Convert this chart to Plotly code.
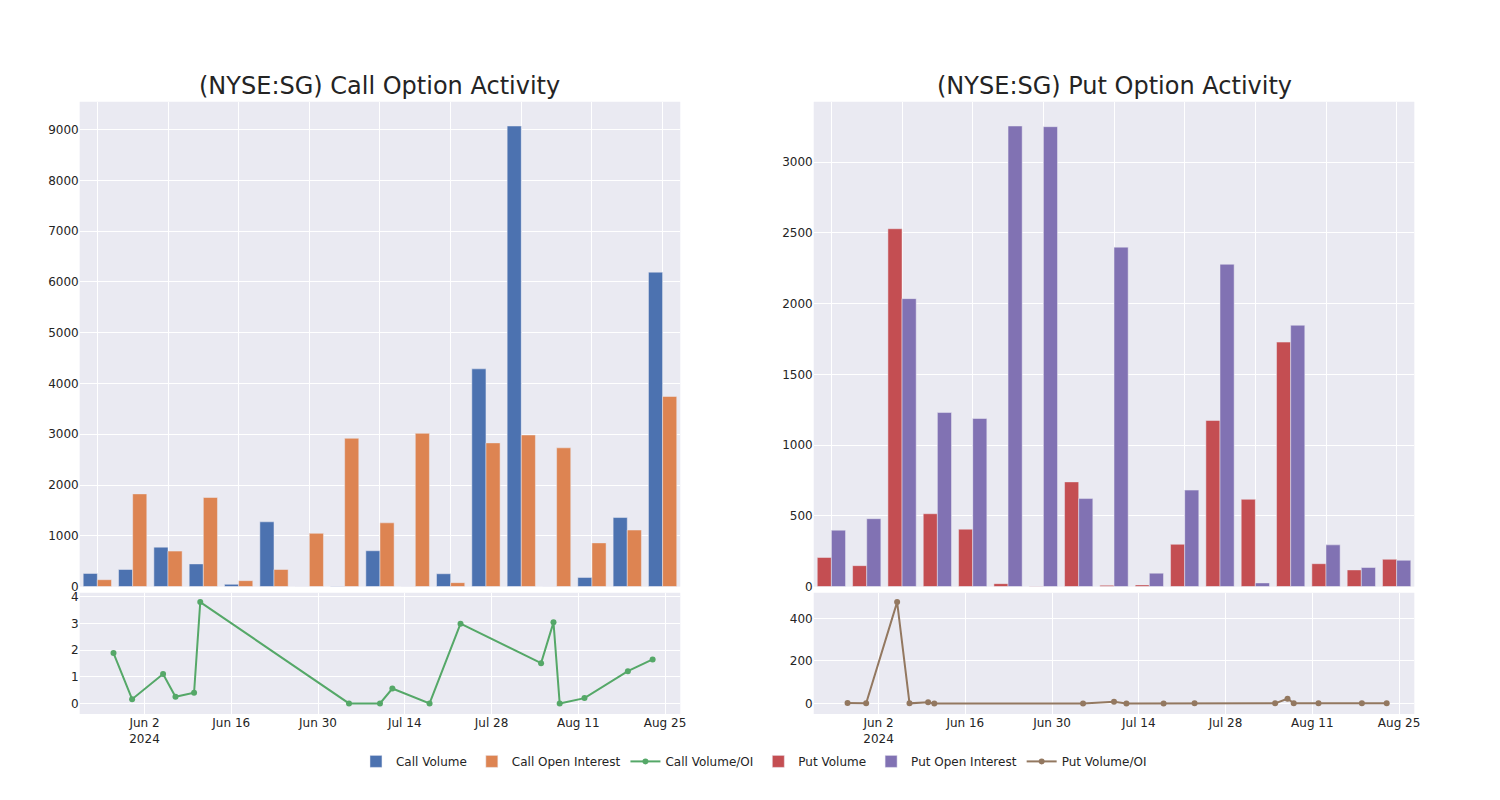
import plotly.graph_objects as go

dates = ["2024-05-28", "2024-05-31", "2024-06-05", "2024-06-07", "2024-06-10",
         "2024-06-11", "2024-07-05", "2024-07-10", "2024-07-12", "2024-07-18",
         "2024-07-23", "2024-08-05", "2024-08-07", "2024-08-08", "2024-08-12",
         "2024-08-19", "2024-08-23"]

call_volume = [259, 337, 777, 447, 45, 1276, 0, 5, 706, 0, 253, 4288, 9070, 0, 181, 1360, 6192]
call_oi = [136, 1826, 699, 1755, 117, 337, 1049, 2921, 1256, 3018, 78, 2830, 2986, 2733, 861, 1114, 3744]
call_ratio = [1.89, 0.16, 1.10, 0.25, 0.40, 3.80, 0.0, 0.0, 0.56, 0.0, 2.99, 1.51, 3.04, 0.0, 0.20, 1.21, 1.65]

put_volume = [206, 148, 2529, 515, 406, 21, 2, 740, 9, 12, 299, 1174, 617, 1728, 162, 118, 193]
put_oi = [399, 480, 2035, 1230, 1188, 3255, 3250, 622, 2399, 95, 682, 2278, 26, 1847, 295, 135, 186]
put_ratio = [1.5, 0.3, 477, 0.4, 5.0, 0.0, 0.0, 8.0, 0.0, 0.0, 0.4, 0.5, 22, 0.9, 0.5, 0.9, 1.0]

titles = ["(NYSE:SG) Call Option Activity", "(NYSE:SG) Put Option Activity"]

C_BLUE, C_ORANGE, C_GREEN = "#4C72B0", "#DD8452", "#55A868"
C_RED, C_PURPLE, C_BROWN = "#C44E52", "#8172B3", "#937860"

W, H = 1500, 800


def fx(px):
    return px / W


def fy(py):
    return 1 - py / H


def dom_x(a, b):
    return [fx(a), fx(b)]


def dom_y(top, bottom):
    return [fy(bottom), fy(top)]


FONT = "DejaVu Sans, Verdana, sans-serif"
TXT = "rgb(36,36,36)"

fig = go.Figure()

bar_line = dict(color="rgb(234,234,242)", width=0.5)
fig.add_trace(go.Bar(x=dates, y=call_volume, name="Call Volume",
                     marker=dict(color=C_BLUE, line=bar_line), xaxis="x", yaxis="y"))
fig.add_trace(go.Bar(x=dates, y=call_oi, name="Call Open Interest",
                     marker=dict(color=C_ORANGE, line=bar_line), xaxis="x", yaxis="y"))
fig.add_trace(go.Scatter(x=dates, y=call_ratio, name="Call Volume/OI", mode="lines+markers",
                         line=dict(color=C_GREEN, width=2), marker=dict(size=6, color=C_GREEN),
                         xaxis="x3", yaxis="y3"))
fig.add_trace(go.Bar(x=dates, y=put_volume, name="Put Volume",
                     marker=dict(color=C_RED, line=bar_line), xaxis="x2", yaxis="y2"))
fig.add_trace(go.Bar(x=dates, y=put_oi, name="Put Open Interest",
                     marker=dict(color=C_PURPLE, line=bar_line), xaxis="x2", yaxis="y2"))
fig.add_trace(go.Scatter(x=dates, y=put_ratio, name="Put Volume/OI", mode="lines+markers",
                         line=dict(color=C_BROWN, width=2), marker=dict(size=6, color=C_BROWN),
                         xaxis="x4", yaxis="y4"))

grid = dict(showgrid=True, gridcolor="white", gridwidth=1, zeroline=False, showline=False, ticks="")
tickfont = dict(family=FONT, size=12, color=TXT)
date_range = ["2024-05-22 13:00", "2024-08-27 11:00"]

TOP = (100, 591.0)
BOT = (597.2, 720)
LEFT = (80, 683)
RIGHT = (817, 1420)

layout_axes = dict(
    xaxis=dict(domain=dom_x(*LEFT), anchor="y", type="category", tickvals=dates[::2],
               showticklabels=False, range=[-0.5, 16.5], **grid),
    yaxis=dict(domain=dom_y(*TOP), anchor="x", autorange=True, dtick=1000,
               tickfont=tickfont, **grid),
    xaxis2=dict(domain=dom_x(*RIGHT), anchor="y2", type="category", tickvals=dates[::2],
                showticklabels=False, range=[-0.5, 16.5], **grid),
    yaxis2=dict(domain=dom_y(*TOP), anchor="x2", autorange=True, dtick=500,
                tickfont=tickfont, **grid),
    xaxis3=dict(domain=dom_x(*LEFT), anchor="y3", type="date", range=date_range,
                tick0="2024-06-02", dtick=14 * 86400000, tickfont=tickfont, **grid),
    yaxis3=dict(domain=dom_y(*BOT), anchor="x3", range=[-0.396, 4.15], dtick=1,
                tickfont=tickfont, **grid),
    xaxis4=dict(domain=dom_x(*RIGHT), anchor="y4", type="date", range=date_range,
                tick0="2024-06-02", dtick=14 * 86400000, tickfont=tickfont, **grid),
    yaxis4=dict(domain=dom_y(*BOT), anchor="x4", range=[-49.8, 521], dtick=200,
                tickfont=tickfont, **grid),
)

annotations = [
    dict(text=titles[0], x=fx((LEFT[0] + LEFT[1]) / 2), y=fy(TOP[0]), xref="paper", yref="paper",
         xanchor="center", yanchor="bottom", showarrow=False,
         font=dict(family=FONT, size=24, color=TXT)),
    dict(text=titles[1], x=fx((RIGHT[0] + RIGHT[1]) / 2), y=fy(TOP[0]), xref="paper", yref="paper",
         xanchor="center", yanchor="bottom", showarrow=False,
         font=dict(family=FONT, size=24, color=TXT)),
]

fig.update_layout(
    template="seaborn",
    width=W, height=H,
    autosize=False,
    margin=dict(l=0, r=0, t=0, b=0),
    paper_bgcolor="white",
    plot_bgcolor="rgb(234,234,242)",
    font=dict(family=FONT, size=12, color=TXT),
    barmode="group",
    bargap=0.2,
    bargroupgap=0,
    showlegend=True,
    legend=dict(orientation="h", x=fx(757), xanchor="center", y=fy(768), yanchor="middle",
                font=dict(family=FONT, size=12, color=TXT), bgcolor="rgba(0,0,0,0)"),
    annotations=annotations,
    **layout_axes,
)

fig.write_html(
    "out.html",
    config={"displayModeBar": False},
    post_script="document.body.style.margin='0px';document.body.style.overflow='hidden';",
)
